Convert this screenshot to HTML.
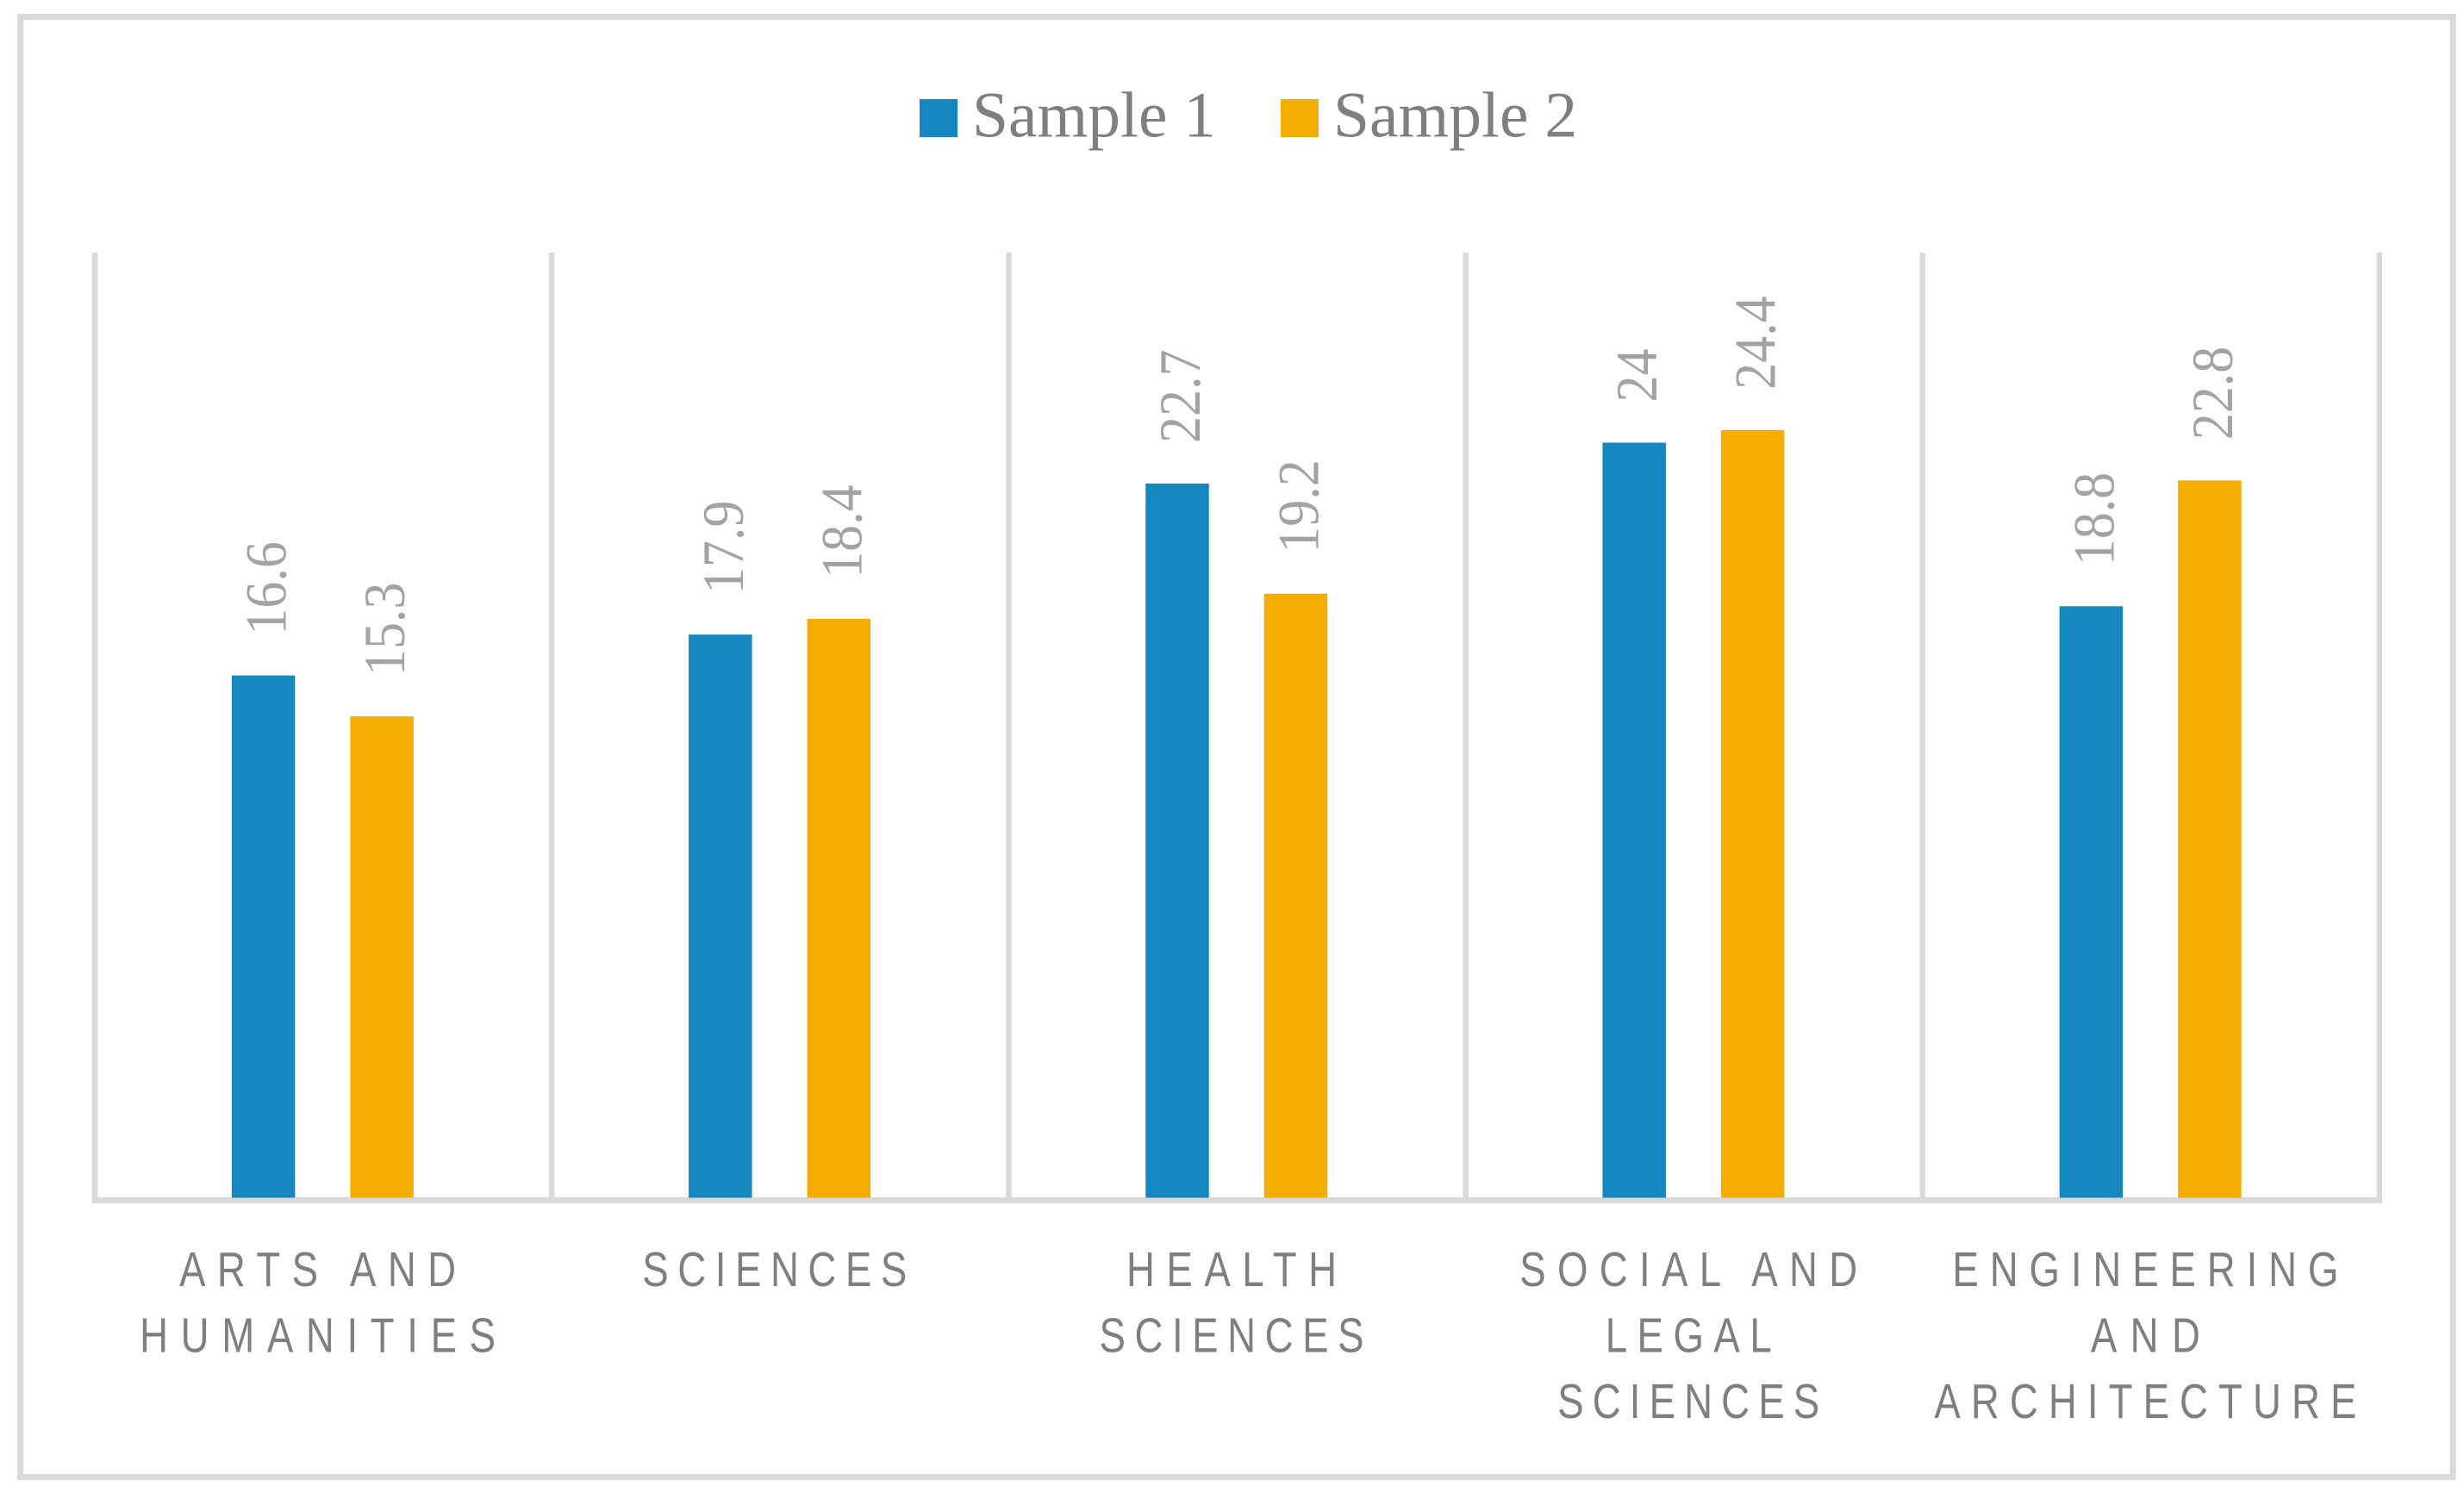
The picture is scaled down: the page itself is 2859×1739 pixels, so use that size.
<!DOCTYPE html>
<html lang="en">
<head>
<meta charset="utf-8">
<title>Sample 1 and Sample 2 by field of study</title>
<style>
html,body{margin:0;padding:0;background:#fff;width:2859px;height:1739px;overflow:hidden}
svg{display:block}
</style>
</head>
<body>
<svg id="chart" xmlns="http://www.w3.org/2000/svg" width="2859" height="1739" viewBox="0 0 2859 1739">
  <rect x="0" y="0" width="2859" height="1739" fill="#fff"/>
  <rect x="23.5" y="19.5" width="2822.5" height="1694" fill="#fff" stroke="#d9d9d9" stroke-width="7"/>
  <g>
    <g>
      <rect x="1067" y="115" width="44" height="44" fill="#1589bf"/>
      <text x="1128" y="158.5" font-family="'Liberation Serif',serif" font-size="75.5" fill="#7f7f7f">Sample 1</text>
    </g>
    <g>
      <rect x="1486" y="115" width="44" height="44" fill="#f4ad00"/>
      <text x="1547" y="158.5" font-family="'Liberation Serif',serif" font-size="75.5" fill="#7f7f7f">Sample 2</text>
    </g>
  </g>
  <g id="gridlines"></g>
  <g id="bars"></g>
  <g id="values"></g>
  <g id="categories"></g>
</svg>
<script>
const categories = [
  ["ARTS AND", "HUMANITIES"],
  ["SCIENCES"],
  ["HEALTH", "SCIENCES"],
  ["SOCIAL AND", "LEGAL", "SCIENCES"],
  ["ENGINEERING", "AND", "ARCHITECTURE"]
];
const sample1Values = [16.6, 17.9, 22.7, 24, 18.8];
const sample2Values = [15.3, 18.4, 19.2, 24.4, 22.8];

const NS = "http://www.w3.org/2000/svg";
const plotLeft = 110;
const categoryStep = 530.2;
const baseline = 1389.5;
const unitHeight = 36.5;
const barWidth = 73.5;
const barOffset = 68.5;
const labelScaleX = 0.8;

function xCategoryEdge(i) { return plotLeft + categoryStep * i; }
function xCategoryCenter(i) { return xCategoryEdge(i) + categoryStep / 2; }
function yValue(v) { return baseline - v * unitHeight; }

function make(tag, attrs, parent) {
  const el = document.createElementNS(NS, tag);
  for (const k in attrs) el.setAttribute(k, attrs[k]);
  parent.appendChild(el);
  return el;
}

const gridGroup = document.getElementById("gridlines");
for (let i = 0; i <= categories.length; i++) {
  const line = make("line", {
    x1: xCategoryEdge(i), x2: xCategoryEdge(i), y1: 293, y2: 1396,
    stroke: "#d9d9d9", "stroke-width": 6.5
  }, gridGroup);
  
  
}
const axisLine = make("line", {
  x1: xCategoryEdge(0) - 3, x2: xCategoryEdge(categories.length) + 3, y1: 1392.5, y2: 1392.5,
  stroke: "#d9d9d9", "stroke-width": 7
}, gridGroup);



const barGroup = document.getElementById("bars");
const valueGroup = document.getElementById("values");

function drawBar(i, value, center, color) {
  const top = yValue(value);
  const bar = make("rect", {
    x: center - barWidth / 2, y: top, width: barWidth, height: baseline - top, fill: color
  }, barGroup);
  
  

  const label = make("text", {
    transform: "translate(" + (center + 26) + "," + (top - 47) + ") rotate(-90) scale(1,1.1)",
    "font-family": "'Liberation Serif',serif",
    "font-size": 62,
    fill: "#a3a3a3"
  }, valueGroup);
  label.textContent = String(value);
  
  
}

sample1Values.forEach(function (v, i) {
  drawBar(i, v, xCategoryCenter(i) - barOffset - 1, "#1589bf");
});
sample2Values.forEach(function (v, i) {
  drawBar(i, v, xCategoryCenter(i) + barOffset - 0.5, "#f4ad00");
});

const categoryGroup = document.getElementById("categories");
const firstLineY = 1492;
const lineStep = 76.5;
/* rendered pixel widths of each label line (layout, not chart data) */
const labelLineWidths = [[321, 413], [307], [244, 307], [392, 193, 304], [448, 127, 490]];
categories.forEach(function (lines, i) {
  lines.forEach(function (lineText, j) {
    const t = make("text", {
      transform: "translate(" + (xCategoryCenter(i) - 6.5) + "," + (firstLineY + lineStep * j) + ") scale(" + labelScaleX + ",1)",
      "text-anchor": "middle",
      "font-family": "'Liberation Sans',sans-serif",
      "font-size": 57,
      textLength: labelLineWidths[i][j] / labelScaleX,
      lengthAdjust: "spacing",
      fill: "#7f7f7f"
    }, categoryGroup);
    t.textContent = lineText;
    
    
  });
});
</script>
</body>
</html>
